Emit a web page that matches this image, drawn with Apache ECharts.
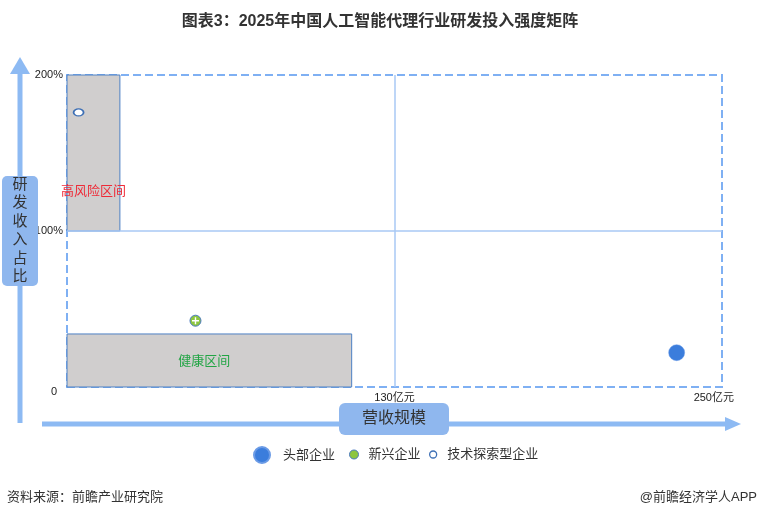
<!DOCTYPE html>
<html>
<head>
<meta charset="utf-8">
<script src="https://cdn.jsdelivr.net/npm/echarts@6/dist/echarts.min.js"></script>
<style>html,body{margin:0;padding:0;background:#fff}#c{width:760px;height:518px}</style>
</head>
<body>
<div id="c"></div>
<script>
// ---- data ----
const titleText = '图表3：2025年中国人工智能代理行业研发投入强度矩阵';
const sourceText = '资料来源：前瞻产业研究院';
const brandText = '@前瞻经济学人APP';
const yAxisName = '研发收入占比';
const xAxisName = '营收规模';
const xTickValues = [130, 250];
const xTickUnit = '亿元';
const yTickValues = [0, 100, 200];
const xMax = 260;
const yMax = 200;
const seriesNames = ['头部企业', '新兴企业', '技术探索型企业'];
// [营收(亿元), 研发收入占比(%)]
const headData = [[242, 22]];
const emergingData = [[51, 42.5]];
const techData = [[4.6, 176]];
// zones: [xFrom, yFrom, xTo, yTo]
const zoneNames = ['高风险区间', '健康区间'];
const riskZone = [0, 100, 21, 200];
const healthZone = [0, 0, 113, 34];
const midX = 130;
const midY = 100;

// ---- chart ----
const FONT = "'Liberation Sans','Noto Sans CJK SC',sans-serif";
const ARROW = '#8dbaf3';
const BOX = '#8fb7ee';
const chart = echarts.init(document.getElementById('c'), null, {renderer: 'canvas'});

const zoneArea = (z, name, label) => [
  {name: name, xAxis: z[0], yAxis: z[1], label: label},
  {xAxis: z[2], yAxis: z[3]}
];

const option = {
  animation: false,
  textStyle: {fontFamily: FONT},
  title: {
    text: titleText, left: 'center', top: 9,
    textStyle: {fontSize: 16, fontWeight: 'bold', color: '#333', fontFamily: FONT}
  },
  grid: {left: 67, right: 38, top: 75, bottom: 131},
  xAxis: {
    type: 'value', min: 0, max: xMax,
    axisLine: {show: false}, axisTick: {show: false}, splitLine: {show: false},
    axisLabel: {
      customValues: xTickValues, fontSize: 11, color: '#222', margin: 5,
      formatter: v => v === xTickValues[xTickValues.length - 1] ? '{r|' + v + xTickUnit + '}' : v + xTickUnit,
      rich: {r: {fontSize: 11, color: '#222', padding: [0, 0, 0, 34]}}
    }
  },
  yAxis: {
    type: 'value', min: 0, max: yMax,
    axisLine: {show: false}, axisTick: {show: false}, splitLine: {show: false},
    axisLabel: {
      customValues: yTickValues, fontSize: 11, color: '#222', margin: 4,
      formatter: v => v === 0 ? '{z|0}' : v + '%',
      rich: {z: {fontSize: 11, color: '#222', padding: [10, 6, 0, 0]}}
    }
  },
  legend: [
    {data: [seriesNames[0]], left: 253, top: 446, padding: 0, itemWidth: 16, itemHeight: 16, icon: 'circle',
     textStyle: {fontSize: 13, color: '#333', padding: [0, 0, 0, 8]}},
    {data: [seriesNames[1]], left: 349, top: 448, padding: 0, itemWidth: 9, itemHeight: 9, icon: 'circle',
     itemStyle: {color: '#8dc63f', borderColor: '#4a78c0', borderWidth: 1},
     textStyle: {fontSize: 13, color: '#333', padding: [0, 0, 0, 5]}},
    {data: [seriesNames[2]], left: 429, top: 448, padding: 0, itemWidth: 10, itemHeight: 7, icon: 'circle',
     itemStyle: {color: '#fff', borderColor: '#3d6fb5', borderWidth: 1.3},
     textStyle: {fontSize: 13, color: '#333', padding: [0, 0, 0, 4]}}
  ],
  series: [
    {
      name: 'frame', type: 'scatter', data: [], silent: true, z: 1,
      markArea: {
        silent: true,
        itemStyle: {color: 'rgba(0,0,0,0)', borderColor: '#7fb0f3', borderWidth: 2, borderType: [8, 4]},
        data: [[{xAxis: 0, yAxis: 0}, {xAxis: xMax, yAxis: yMax}]]
      }
    },
    {
      name: 'mid', type: 'scatter', data: [], silent: true, z: 2,
      markLine: {
        silent: true, symbol: 'none', label: {show: false},
        lineStyle: {color: '#a9c8f5', width: 1.5, type: 'solid'},
        data: [{xAxis: midX}, {yAxis: midY}]
      }
    },
    {
      name: 'zones', type: 'scatter', data: [], silent: true, z: 3,
      markArea: {
        silent: true,
        itemStyle: {color: '#d0cece', borderColor: '#4d80c4', borderWidth: 1},
        data: [
          zoneArea(riskZone, zoneNames[0], {show: true, position: 'insideBottom', distance: 34, color: '#ee2b38', fontSize: 13}),
          zoneArea(healthZone, zoneNames[1], {show: true, position: 'inside', offset: [-5, 1], color: '#22a545', fontSize: 13})
        ]
      }
    },
    {
      name: seriesNames[0], type: 'scatter', z: 10, data: headData, symbol: 'circle', symbolSize: 16,
      itemStyle: {color: '#3b7ddc', borderColor: '#6b9be6', borderWidth: 0.5, opacity: 1}
    },
    {
      name: seriesNames[1], type: 'scatter', z: 10, data: emergingData, symbol: 'circle', symbolSize: 11,
      itemStyle: {color: '#8dc63f', borderColor: '#4a78c0', borderWidth: 1, opacity: 1}
    },
    {
      name: 'emergingCross', type: 'scatter', z: 11, data: emergingData, silent: true,
      symbol: 'path://M4,0H6V4H10V6H6V10H4V6H0V4H4Z', symbolSize: 7,
      itemStyle: {color: '#ffffff', opacity: 1}
    },
    {
      name: seriesNames[2], type: 'scatter', z: 10, data: techData, symbol: 'circle', symbolSize: [10, 7],
      itemStyle: {color: '#ffffff', borderColor: '#3d6fb5', borderWidth: 1.5, opacity: 1}
    }
  ],
  graphic: [
    {type: 'line', z: 1, shape: {x1: 20, y1: 423, x2: 20, y2: 72}, style: {stroke: ARROW, lineWidth: 5}},
    {type: 'polygon', z: 1, shape: {points: [[10, 74], [30, 74], [20, 57]]}, style: {fill: ARROW}},
    {type: 'line', z: 1, shape: {x1: 42, y1: 424, x2: 727, y2: 424}, style: {stroke: ARROW, lineWidth: 5}},
    {type: 'polygon', z: 1, shape: {points: [[725, 417], [725, 431], [741, 424]]}, style: {fill: ARROW}},
    {type: 'rect', z: 2, shape: {x: 2, y: 176, width: 36, height: 110, r: 5}, style: {fill: BOX}},
    {type: 'text', z: 3, x: 20, y: 231, style: {
      text: yAxisName.split('').join('\n'), fontSize: 15, lineHeight: 18.5, fill: '#333',
      align: 'center', verticalAlign: 'middle', fontFamily: FONT}},
    {type: 'rect', z: 2, shape: {x: 339, y: 403, width: 110, height: 32, r: 6}, style: {fill: BOX}},
    {type: 'text', z: 3, x: 394, y: 419, style: {
      text: xAxisName, fontSize: 16, fill: '#333', align: 'center', verticalAlign: 'middle', fontFamily: FONT}},
    {type: 'text', z: 3, x: 7, y: 497, style: {
      text: sourceText, fontSize: 13, fill: '#333', align: 'left', verticalAlign: 'middle', fontFamily: FONT}},
    {type: 'text', z: 3, x: 757, y: 497, style: {
      text: brandText, fontSize: 13, fill: '#333', align: 'right', verticalAlign: 'middle', fontFamily: FONT}}
  ]
};
chart.setOption(option);
</script>
</body>
</html>
